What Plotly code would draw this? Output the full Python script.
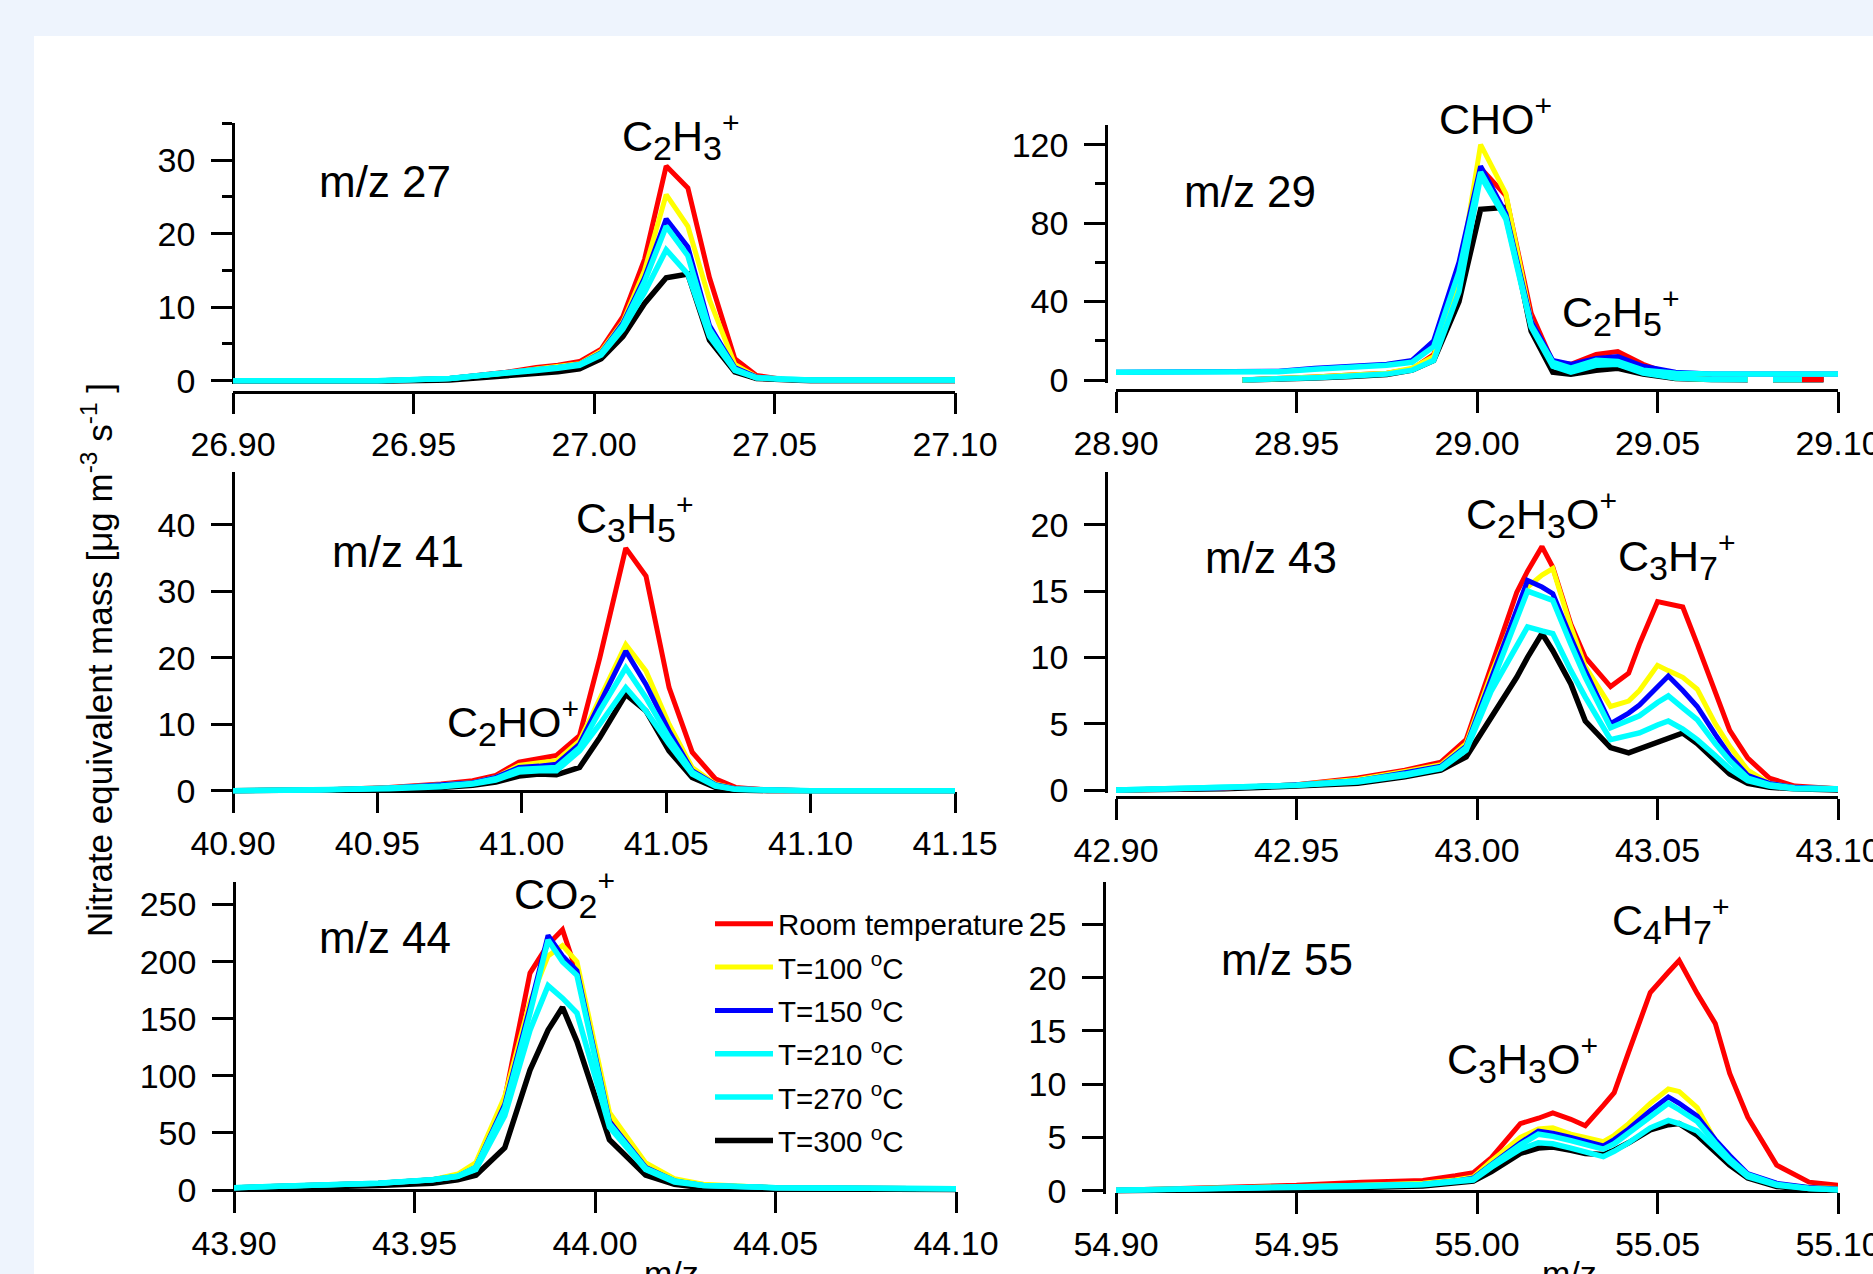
import plotly.graph_objects as go

W, H = 1873, 1274
FONT = "Liberation Sans, Arial, sans-serif"

series_names = ["Room temperature", "T=100 <sup>o</sup>C", "T=150 <sup>o</sup>C",
                "T=210 <sup>o</sup>C", "T=270 <sup>o</sup>C", "T=300 <sup>o</sup>C"]
series_colors = ["#ff0000", "#ffff00", "#0000ff", "#00ffff", "#00ffff", "#000000"]

# ---------------- m/z 27 ----------------
mz27_x = [26.90, 26.92, 26.94, 26.96, 26.975, 26.984, 26.99, 26.996, 27.002, 27.008,
          27.014, 27.020, 27.026, 27.032, 27.039, 27.045, 27.052, 27.06, 27.08, 27.10]
mz27_room = [0.0, 0.0, 0.0, 0.3, 1.1, 1.8, 2.1, 2.6, 4.3, 8.7, 16.5, 29.2, 26.2, 14.0, 3.0, 0.7, 0.2, 0.1, 0.1, 0.1]
mz27_t100 = [0.0, 0.0, 0.0, 0.3, 1.0, 1.6, 1.9, 2.3, 4.0, 8.0, 15.0, 25.3, 21.0, 11.0, 2.2, 0.5, 0.2, 0.1, 0.1, 0.1]
mz27_t150 = [0.0, 0.0, 0.0, 0.3, 1.0, 1.5, 1.8, 2.2, 3.8, 7.8, 14.0, 22.0, 18.2, 7.5, 1.8, 0.5, 0.2, 0.1, 0.1, 0.1]
mz27_t210 = [0.0, 0.0, 0.0, 0.3, 1.0, 1.5, 1.8, 2.2, 3.7, 7.5, 13.5, 21.0, 17.0, 7.0, 1.6, 0.4, 0.2, 0.1, 0.1, 0.1]
mz27_t270 = [0.0, 0.0, 0.0, 0.3, 0.9, 1.4, 1.7, 2.1, 3.5, 7.0, 12.0, 17.8, 14.5, 6.0, 1.4, 0.4, 0.2, 0.1, 0.1, 0.1]
mz27_t300 = [-0.2, -0.2, -0.1, 0.1, 0.6, 1.0, 1.2, 1.6, 3.0, 6.0, 10.5, 14.0, 14.5, 5.5, 1.2, 0.3, 0.1, 0.0, 0.0, 0.0]

# ---------------- m/z 29 ----------------
mz29_x = [28.90, 28.92, 28.935, 28.945, 28.955, 28.965, 28.975, 28.982, 28.988, 28.995,
          29.001, 29.008, 29.015, 29.021, 29.026, 29.033, 29.039, 29.046, 29.055, 29.065,
          29.075, 29.078, 29.082, 29.090, 29.096, 29.10]
mz29_room = [None, None, 0, 0.5, 1.5, 2.5, 3.5, 5.5, 13, 50, 108, 94, 34, 9, 8, 13, 14.5, 8, 2, 0.5, 0.2, None, 0.2, 0.2, 0.2, None]
mz29_t100 = [None, None, 0, 0.5, 1.5, 2.5, 3.5, 6, 12, 52, 120, 95, 30, 8, 6, 9, 8, 4, 1, 0.3, 0.2, None, 0.2, 0.2, None, None]
mz29_t150 = [4, 4, 4, 4.5, 6, 7, 8, 10, 20, 60, 109, 85, 30, 10, 8, 11, 12, 7, 4, 3, 3, 3, 3, 3, 3, 3]
mz29_t210 = [4, 4, 4, 4.2, 5.5, 6.5, 7.5, 9, 17, 55, 106, 83, 28, 9, 6, 10, 9.5, 5, 3.5, 3, 3, 3, 3, 3, 3, 3]
mz29_t270 = [None, None, 0, 0.3, 1.2, 2, 3, 5, 10, 45, 104, 82, 27, 7, 4, 7.5, 8, 3.5, 1, 0.2, 0.2, None, 0.2, 0.2, None, None]
mz29_t300 = [None, None, 0, 0.3, 1, 1.8, 2.8, 5, 10, 40, 87, 88, 25, 4, 3, 5, 6, 3, 0.8, 0.2, 0.1, None, 0.1, 0.1, 0.1, None]

# ---------------- m/z 41 ----------------
mz41_x = [40.90, 40.93, 40.954, 40.972, 40.983, 40.991, 40.999, 41.006, 41.012, 41.020,
          41.027, 41.036, 41.043, 41.051, 41.059, 41.067, 41.074, 41.085, 41.10, 41.15]
mz41_room = [0, 0.1, 0.5, 1.0, 1.5, 2.3, 4.3, 4.8, 5.3, 8.3, 20, 36.5, 32.3, 15.5, 5.8, 1.8, 0.5, 0.1, 0, 0]
mz41_t100 = [0, 0.1, 0.4, 0.8, 1.2, 2.0, 3.8, 4.2, 4.5, 7.5, 14, 22, 18, 10, 3.5, 1.0, 0.3, 0.1, 0, 0]
mz41_t150 = [0, 0.1, 0.4, 0.8, 1.2, 2.0, 3.5, 3.7, 4.0, 7.0, 13, 21, 16, 9, 3, 0.9, 0.3, 0.1, 0, 0]
mz41_t210 = [0, 0.1, 0.4, 0.7, 1.1, 1.8, 3.2, 3.3, 3.5, 6.5, 12, 18.5, 14, 8, 2.8, 0.8, 0.2, 0.1, 0, 0]
mz41_t270 = [0, 0.1, 0.3, 0.6, 1.0, 1.6, 2.8, 3.0, 3.0, 6.0, 10, 15.5, 12, 7, 2.5, 0.7, 0.2, 0.1, 0, 0]
mz41_t300 = [0, 0, 0.2, 0.5, 0.8, 1.3, 2.2, 2.5, 2.4, 3.5, 8, 14.5, 12, 6, 2, 0.5, 0.1, 0, 0, 0]

# ---------------- m/z 43 ----------------
mz43_x = [42.90, 42.93, 42.95, 42.967, 42.98, 42.99, 42.997, 43.004, 43.011, 43.014,
          43.018, 43.021, 43.026, 43.030, 43.037, 43.042, 43.045, 43.050, 43.053, 43.057,
          43.061, 43.066, 43.070, 43.075, 43.081, 43.088, 43.10]
mz43_room = [0.0, 0.15, 0.4, 0.9, 1.5, 2.1, 3.8, 9.3, 14.9, 16.5, 18.35, 16.8, 12.5, 10.0, 7.8, 8.8, 11.0, 14.2, 14.0, 13.8, 11.0, 7.3, 4.5, 2.4, 0.9, 0.3, 0.1]
mz43_t100 = [0.0, 0.15, 0.4, 0.8, 1.4, 1.9, 3.5, 8.8, 13.5, 15.3, 16.2, 16.7, 12.3, 9.3, 6.3, 6.7, 7.5, 9.4, 9.0, 8.5, 7.6, 5.0, 3.3, 1.5, 0.5, 0.2, 0.1]
mz43_t150 = [0.0, 0.15, 0.4, 0.7, 1.3, 1.8, 3.3, 8.5, 13.5, 15.8, 15.3, 14.8, 11.5, 9.0, 5.0, 5.8, 6.4, 7.8, 8.6, 7.5, 6.3, 4.2, 2.6, 1.1, 0.5, 0.2, 0.1]
mz43_t210 = [0.0, 0.15, 0.35, 0.7, 1.2, 1.7, 3.2, 8.0, 13.0, 15.0, 14.6, 14.3, 11.0, 8.5, 4.7, 5.2, 5.6, 6.6, 7.1, 6.2, 5.3, 3.5, 2.2, 0.9, 0.4, 0.15, 0.1]
mz43_t270 = [0.0, 0.15, 0.35, 0.6, 1.1, 1.6, 3.0, 7.5, 11.0, 12.3, 12.0, 11.8, 9.0, 7.0, 3.8, 4.1, 4.3, 4.9, 5.2, 4.6, 3.8, 2.6, 1.6, 0.7, 0.3, 0.1, 0.05]
mz43_t300 = [0.0, 0.1, 0.3, 0.5, 1.0, 1.5, 2.5, 5.5, 8.5, 10.0, 11.8, 10.5, 8.0, 5.2, 3.2, 2.8, 3.1, 3.6, 4.0, 4.3, 3.5, 2.2, 1.2, 0.5, 0.2, 0.1, 0.0]

# ---------------- m/z 44 ----------------
mz44_x = [43.90, 43.92, 43.94, 43.955, 43.962, 43.967, 43.975, 43.982, 43.987, 43.991,
          43.995, 44.004, 44.014, 44.022, 44.03, 44.05, 44.075, 44.10]
mz44_room = [2, 4, 6, 9, 13, 22, 80, 190, 215, 228, 190, 62, 22, 9, 4, 2, 1, 1]
mz44_t100 = [2, 4, 6, 9, 14, 24, 82, 165, 205, 214, 200, 68, 24, 10, 5, 2, 1, 1]
mz44_t150 = [2, 4, 6, 9, 12, 20, 75, 160, 223, 205, 192, 60, 20, 8, 4, 2, 1, 1]
mz44_t210 = [2, 4, 6, 9, 12, 20, 72, 155, 219, 200, 188, 58, 19, 8, 4, 2, 1, 1]
mz44_t270 = [2, 4, 6, 9, 12, 18, 65, 140, 179, 168, 155, 55, 18, 7, 4, 2, 1, 1]
mz44_t300 = [1, 2, 4, 6, 9, 13, 37, 105, 140, 160, 130, 44, 13, 5, 2, 1, 0.5, 0.5]

# ---------------- m/z 55 ----------------
mz55_x = [54.90, 54.93, 54.95, 54.968, 54.985, 54.994, 54.999, 55.004, 55.012, 55.017,
          55.021, 55.026, 55.030, 55.035, 55.038, 55.042, 55.048, 55.053, 55.056, 55.061,
          55.066, 55.070, 55.075, 55.083, 55.092, 55.10]
mz55_room = [0.05, 0.3, 0.5, 0.8, 0.95, 1.4, 1.7, 3.1, 6.3, 6.8, 7.3, 6.7, 6.1, 8.0, 9.2, 13.0, 18.6, 20.5, 21.6, 18.5, 15.7, 11.0, 6.9, 2.4, 0.8, 0.5]
mz55_t100 = [0.05, 0.2, 0.3, 0.5, 0.7, 1.0, 1.3, 2.8, 5.0, 5.8, 5.9, 5.3, 5.0, 4.6, 5.2, 6.3, 8.2, 9.55, 9.3, 7.8, 4.7, 3.1, 1.4, 0.6, 0.3, 0.2]
mz55_t150 = [0.05, 0.2, 0.3, 0.45, 0.6, 0.9, 1.2, 2.5, 4.5, 5.6, 5.4, 5.0, 4.6, 4.2, 4.8, 5.8, 7.5, 8.8, 8.2, 7.0, 4.8, 3.3, 1.6, 0.7, 0.3, 0.15]
mz55_t210 = [0.05, 0.2, 0.3, 0.45, 0.6, 0.9, 1.1, 2.4, 4.3, 5.3, 5.1, 4.7, 4.3, 3.9, 4.4, 5.4, 7.0, 8.2, 7.6, 6.5, 4.5, 3.0, 1.5, 0.6, 0.2, 0.1]
mz55_t270 = [0.05, 0.15, 0.25, 0.4, 0.55, 0.8, 1.0, 2.2, 3.9, 4.5, 4.4, 4.0, 3.6, 3.2, 3.7, 4.5, 5.9, 6.6, 6.3, 5.6, 4.0, 2.7, 1.3, 0.5, 0.2, 0.1]
mz55_t300 = [0.0, 0.1, 0.15, 0.3, 0.45, 0.7, 0.9, 1.8, 3.5, 4.0, 4.1, 3.8, 3.5, 3.4, 3.8, 4.5, 5.7, 6.2, 6.3, 5.2, 3.7, 2.4, 1.2, 0.4, 0.1, 0.05]

# tick values
mz27_xticks = [26.90, 26.95, 27.00, 27.05, 27.10]
mz29_xticks = [28.90, 28.95, 29.00, 29.05, 29.10]
mz41_xticks = [40.90, 40.95, 41.00, 41.05, 41.10, 41.15]
mz43_xticks = [42.90, 42.95, 43.00, 43.05, 43.10]
mz44_xticks = [43.90, 43.95, 44.00, 44.05, 44.10]
mz55_xticks = [54.90, 54.95, 55.00, 55.05, 55.10]
mz27_yticks, mz27_yminor = [0, 10, 20, 30], [5, 15, 25, 35]
mz29_yticks, mz29_yminor = [0, 40, 80, 120], [20, 60, 100]
mz41_yticks = [0, 10, 20, 30, 40]
mz43_yticks = [0, 5, 10, 15, 20]
mz44_yticks = [0, 50, 100, 150, 200, 250]
mz55_yticks = [0, 5, 10, 15, 20, 25]

panels = [
    dict(x=mz27_x, ys=[mz27_room, mz27_t100, mz27_t150, mz27_t210, mz27_t270, mz27_t300],
         xr=[26.90, 27.10], xt=mz27_xticks, yt=mz27_yticks, ym=mz27_yminor, ytop=35,
         xd=(233, 955), yax=233, top=123.3, zero=380.7, xax=391.7),
    dict(x=mz29_x, ys=[mz29_room, mz29_t100, mz29_t150, mz29_t210, mz29_t270, mz29_t300],
         xr=[28.90, 29.10], xt=mz29_xticks, yt=mz29_yticks, ym=mz29_yminor, ytop=130,
         xd=(1116, 1838), yax=1106, top=125, zero=380, xax=390),
    dict(x=mz41_x, ys=[mz41_room, mz41_t100, mz41_t150, mz41_t210, mz41_t270, mz41_t300],
         xr=[40.90, 41.15], xt=mz41_xticks, yt=mz41_yticks, ym=None, ytop=48,
         xd=(233, 955), yax=233, top=471.7, zero=790.7, xax=790.7),
    dict(x=mz43_x, ys=[mz43_room, mz43_t100, mz43_t150, mz43_t210, mz43_t270, mz43_t300],
         xr=[42.90, 43.10], xt=mz43_xticks, yt=mz43_yticks, ym=None, ytop=24,
         xd=(1116, 1838), yax=1106, top=471.7, zero=790, xax=797),
    dict(x=mz44_x, ys=[mz44_room, mz44_t100, mz44_t150, mz44_t210, mz44_t270, mz44_t300],
         xr=[43.90, 44.10], xt=mz44_xticks, yt=mz44_yticks, ym=None, ytop=270,
         xd=(234, 956), yax=234, top=881.7, zero=1190, xax=1190),
    dict(x=mz55_x, ys=[mz55_room, mz55_t100, mz55_t150, mz55_t210, mz55_t270, mz55_t300],
         xr=[54.90, 55.10], xt=mz55_xticks, yt=mz55_yticks, ym=None, ytop=29,
         xd=(1116, 1838), yax=1104, top=881.7, zero=1190.7, xax=1191),
]


def fx(p):
    return p / W


def fy(p):
    return 1 - p / H


fig = go.Figure()
draw_order = [5, 0, 1, 2, 3, 4]
widths = [5, 5, 5, 5.5, 5.5, 5.5]
layout = {}
for i, pnl in enumerate(panels):
    n = "" if i == 0 else str(i + 1)
    for s in draw_order:
        fig.add_trace(go.Scatter(
            x=pnl["x"], y=pnl["ys"][s], mode="lines",
            line=dict(color=series_colors[s], width=widths[s]),
            name=series_names[s], legendgroup="g%d" % s, legendrank=s + 1,
            showlegend=(i == 4), connectgaps=False,
            xaxis="x" + n, yaxis="y" + n))
    ppu = (pnl["zero"] - pnl["top"]) / pnl["ytop"]
    ybot = pnl["zero"] + 3
    axis_common = dict(showline=True, linecolor="black", linewidth=2.5, ticks="outside",
                       tickcolor="black", tickwidth=2.5, ticklen=21, showgrid=False,
                       zeroline=False, automargin=False, ticklabeloverflow="allow",
                       tickfont=dict(family=FONT, size=34, color="black"),
                       layer="below traces")
    layout["xaxis" + n] = dict(axis_common, domain=[fx(pnl["xd"][0]), fx(pnl["xd"][1])],
                               range=pnl["xr"], tickvals=pnl["xt"], tickformat=".2f",
                               anchor="free", position=fy(pnl["xax"]), ticklabelstandoff=1)
    ya = dict(axis_common, domain=[fy(ybot), fy(pnl["top"])],
              range=[-3 / ppu, pnl["ytop"]], tickvals=pnl["yt"],
              anchor="free", position=fx(pnl["yax"]), ticklabelstandoff=9)
    if pnl["ym"]:
        ya["minor"] = dict(tickvals=pnl["ym"], ticklen=10, tickwidth=2.5, tickcolor="black",
                           ticks="outside", showgrid=False)
    layout["yaxis" + n] = ya

fig.update_layout(**layout)


def sb(d):
    return '<sub><span style="font-size:34px">%s</span></sub>' % d


labels = [
    ("m/z 27", 385, 182, 44), ("C" + sb("2") + "H" + sb("3") + "<sup>+</sup>", 681, 136, 43),
    ("m/z 29", 1250, 192, 44), ("CHO<sup>+</sup>", 1495, 116, 43),
    ("C" + sb("2") + "H" + sb("5") + "<sup>+</sup>", 1621, 312, 43),
    ("m/z 41", 398, 551, 44), ("C" + sb("3") + "H" + sb("5") + "<sup>+</sup>", 635, 519, 43),
    ("C" + sb("2") + "HO<sup>+</sup>", 513, 722, 43),
    ("m/z 43", 1271, 557, 44), ("C" + sb("2") + "H" + sb("3") + "O<sup>+</sup>", 1541, 514, 43),
    ("C" + sb("3") + "H" + sb("7") + "<sup>+</sup>", 1677, 556, 43),
    ("m/z 44", 385, 937, 44), ("CO" + sb("2") + "<sup>+</sup>", 564, 894, 43),
    ("m/z 55", 1287, 959, 44), ("C" + sb("4") + "H" + sb("7") + "<sup>+</sup>", 1671, 920, 43),
    ("C" + sb("3") + "H" + sb("3") + "O<sup>+</sup>", 1522, 1059, 43),
]
annotations = []
for txt, x, y, sz in labels:
    annotations.append(dict(text=txt, x=fx(x), y=fy(y), xref="paper", yref="paper",
                            xanchor="center", yanchor="middle", showarrow=False,
                            font=dict(family=FONT, size=sz, color="black")))
for x in (671, 1569):
    annotations.append(dict(text="m/z", x=fx(x), y=fy(1252), xref="paper", yref="paper",
                            xanchor="center", yanchor="top", showarrow=False,
                            font=dict(family=FONT, size=34, color="black")))
annotations.append(dict(text="Nitrate equivalent mass [μg m<sup>-3</sup> s<sup>-1</sup> ]",
                        x=fx(97), y=fy(660), xref="paper", yref="paper", textangle=-90,
                        xanchor="center", yanchor="middle", showarrow=False,
                        font=dict(family=FONT, size=35, color="black")))

fig.update_layout(
    width=W, height=H, margin=dict(l=0, r=0, t=0, b=0, autoexpand=False),
    paper_bgcolor="#eef4fd", plot_bgcolor="rgba(0,0,0,0)",
    annotations=annotations,
    shapes=[dict(type="rect", xref="paper", yref="paper", x0=fx(34), x1=1.02,
                 y0=-0.02, y1=fy(36), fillcolor="white", line=dict(width=0), layer="below")],
    legend=dict(x=fx(710), y=fy(898), xanchor="left", yanchor="top",
                font=dict(family=FONT, size=29.5, color="black"), bgcolor="rgba(0,0,0,0)",
                itemwidth=58, tracegroupgap=2, traceorder="grouped"),
    showlegend=True,
)

fig.write_html("out.html")
